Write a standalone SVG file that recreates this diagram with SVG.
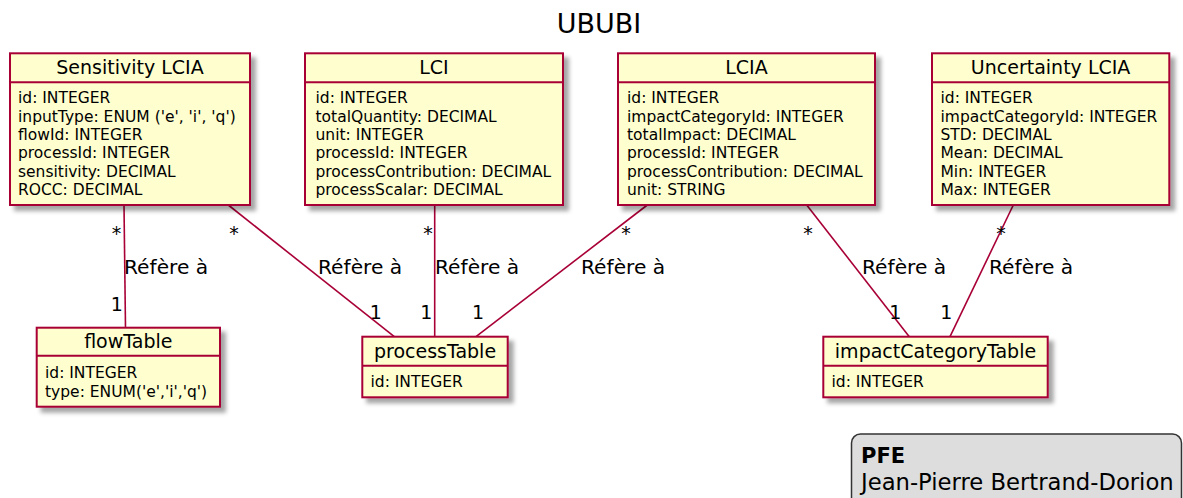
<svg xmlns="http://www.w3.org/2000/svg" width="1183" height="498" viewBox="0 0 1183 498">
  <defs>
    <filter id="shadow" x="-10%" y="-10%" width="130%" height="130%">
      <feGaussianBlur in="SourceAlpha" stdDeviation="2.2"/>
      <feOffset dx="5" dy="5" result="blur"/>
      <feFlood flood-color="#000" flood-opacity="0.35"/>
      <feComposite in2="blur" operator="in"/>
      <feMerge>
        <feMergeNode/>
        <feMergeNode in="SourceGraphic"/>
      </feMerge>
    </filter>
  </defs>
  <style>
    .box { fill: #FEFECE; stroke: #A80036; stroke-width: 2; }
    .sep { stroke: #A80036; stroke-width: 2; }
    .name { font-family: "DejaVu Sans", sans-serif; font-size: 19px; fill: #000; text-anchor: middle; }
    .attr { font-family: "DejaVu Sans", sans-serif; font-size: 15.5px; fill: #000; }
    .link { stroke: #A80036; stroke-width: 1.6; fill: none; }
    .lbl { font-family: "DejaVu Sans", sans-serif; font-size: 20.2px; fill: #000; }
    .mult { font-family: "DejaVu Sans", sans-serif; font-size: 19px; fill: #000; text-anchor: middle; }
  </style>

  <rect width="1183" height="498" fill="#FFFFFF"/>

  <text x="599" y="33" font-family="DejaVu Sans, sans-serif" font-size="27" text-anchor="middle" fill="#000">UBUBI</text>

  <!-- relations -->
  <g id="connectors">
    <line class="link" x1="124" y1="205" x2="125.5" y2="327.7"/>
    <line class="link" x1="228.3" y1="205" x2="394.3" y2="336.7"/>
    <line class="link" x1="434.7" y1="205" x2="434.7" y2="336.7"/>
    <line class="link" x1="647.3" y1="205" x2="476" y2="336.7"/>
    <line class="link" x1="806.7" y1="205" x2="909.3" y2="336.7"/>
    <line class="link" x1="1013.3" y1="205" x2="950" y2="336.7"/>

    <text class="lbl" x="124" y="274">Réfère à</text>
    <text class="lbl" x="318" y="274">Réfère à</text>
    <text class="lbl" x="435" y="274">Réfère à</text>
    <text class="lbl" x="581" y="274">Réfère à</text>
    <text class="lbl" x="862" y="274">Réfère à</text>
    <text class="lbl" x="989" y="274">Réfère à</text>

    <text class="mult" x="116.5" y="240">*</text>
    <text class="mult" x="234" y="240">*</text>
    <text class="mult" x="428" y="240">*</text>
    <text class="mult" x="626" y="240">*</text>
    <text class="mult" x="808" y="240">*</text>
    <text class="mult" x="1001" y="240">*</text>

    <text class="mult" x="116.7" y="311">1</text>
    <text class="mult" x="375.7" y="319">1</text>
    <text class="mult" x="426.2" y="319">1</text>
    <text class="mult" x="478" y="319">1</text>
    <text class="mult" x="895.3" y="319">1</text>
    <text class="mult" x="946.3" y="319">1</text>
  </g>

  <g id="sensitivity-lcia">
    <rect class="box" x="10" y="53.3" width="240" height="151.7" filter="url(#shadow)"/>
    <line class="sep" x1="10" y1="82.3" x2="250" y2="82.3"/>
    <text class="name" x="130" y="74.3">Sensitivity LCIA</text>
    <text class="attr" x="18" y="103.3">id: INTEGER</text>
    <text class="attr" x="18" y="121.7">inputType: ENUM ('e', 'i', 'q')</text>
    <text class="attr" x="18" y="140">flowId: INTEGER</text>
    <text class="attr" x="18" y="158.3">processId: INTEGER</text>
    <text class="attr" x="18" y="176.7">sensitivity: DECIMAL</text>
    <text class="attr" x="18" y="195">ROCC: DECIMAL</text>
  </g>

  <g id="lci">
    <rect class="box" x="305" y="53.3" width="258" height="151.7" filter="url(#shadow)"/>
    <line class="sep" x1="305" y1="82.3" x2="563" y2="82.3"/>
    <text class="name" x="434" y="74.3">LCI</text>
    <text class="attr" x="315.5" y="103.3">id: INTEGER</text>
    <text class="attr" x="315.5" y="121.7">totalQuantity: DECIMAL</text>
    <text class="attr" x="315.5" y="140">unit: INTEGER</text>
    <text class="attr" x="315.5" y="158.3">processId: INTEGER</text>
    <text class="attr" x="315.5" y="176.7">processContribution: DECIMAL</text>
    <text class="attr" x="315.5" y="195">processScalar: DECIMAL</text>
  </g>

  <g id="lcia">
    <rect class="box" x="618" y="53.3" width="257" height="151.7" filter="url(#shadow)"/>
    <line class="sep" x1="618" y1="82.3" x2="875" y2="82.3"/>
    <text class="name" x="746.5" y="74.3">LCIA</text>
    <text class="attr" x="627" y="103.3">id: INTEGER</text>
    <text class="attr" x="627" y="121.7">impactCategoryId: INTEGER</text>
    <text class="attr" x="627" y="140">totalImpact: DECIMAL</text>
    <text class="attr" x="627" y="158.3">processId: INTEGER</text>
    <text class="attr" x="627" y="176.7">processContribution: DECIMAL</text>
    <text class="attr" x="627" y="195">unit: STRING</text>
  </g>

  <g id="uncertainty-lcia">
    <rect class="box" x="932" y="53.3" width="237.3" height="151.7" filter="url(#shadow)"/>
    <line class="sep" x1="932" y1="82.3" x2="1169.3" y2="82.3"/>
    <text class="name" x="1050.6" y="74.3">Uncertainty LCIA</text>
    <text class="attr" x="940.5" y="103.3">id: INTEGER</text>
    <text class="attr" x="940.5" y="121.7">impactCategoryId: INTEGER</text>
    <text class="attr" x="940.5" y="140">STD: DECIMAL</text>
    <text class="attr" x="940.5" y="158.3">Mean: DECIMAL</text>
    <text class="attr" x="940.5" y="176.7">Min: INTEGER</text>
    <text class="attr" x="940.5" y="195">Max: INTEGER</text>
  </g>

  <g id="flow-table">
    <rect class="box" x="36.7" y="327.7" width="183.3" height="79" filter="url(#shadow)"/>
    <line class="sep" x1="36.7" y1="355.7" x2="220" y2="355.7"/>
    <text class="name" x="128.3" y="348.3">flowTable</text>
    <text class="attr" x="45" y="377.5">id: INTEGER</text>
    <text class="attr" x="45" y="396.5">type: ENUM('e','i','q')</text>
  </g>

  <g id="process-table">
    <rect class="box" x="362.3" y="336.7" width="145.4" height="60.6" filter="url(#shadow)"/>
    <line class="sep" x1="362.3" y1="365.7" x2="507.7" y2="365.7"/>
    <text class="name" x="435" y="358.3">processTable</text>
    <text class="attr" x="370.5" y="386.7">id: INTEGER</text>
  </g>

  <g id="impact-category-table">
    <rect class="box" x="823.3" y="336.7" width="224.4" height="60.6" filter="url(#shadow)"/>
    <line class="sep" x1="823.3" y1="365.7" x2="1047.7" y2="365.7"/>
    <text class="name" x="935.5" y="358.3">impactCategoryTable</text>
    <text class="attr" x="831.5" y="386.7">id: INTEGER</text>
  </g>

  <g id="legend">
    <rect x="851.5" y="434" width="330" height="80" rx="9" ry="9" fill="#DDDDDD" stroke="#333333" stroke-width="1.5"/>
    <text x="861" y="463" font-family="DejaVu Sans, sans-serif" font-size="21" font-weight="bold" fill="#000">PFE</text>
    <text x="861" y="490" font-family="DejaVu Sans, sans-serif" font-size="22.7" fill="#000">Jean-Pierre Bertrand-Dorion</text>
  </g>
</svg>
